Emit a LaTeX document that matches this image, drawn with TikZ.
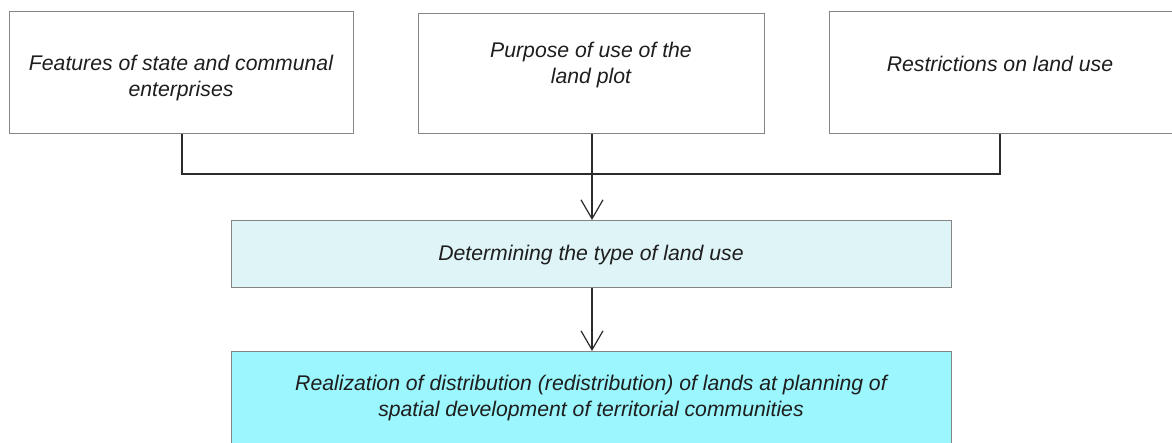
\documentclass[tikz,border=0pt]{standalone}
\usepackage{fontspec}
\setmainfont{Liberation Sans}
\usetikzlibrary{arrows.meta}
\definecolor{edge}{HTML}{858585}
\definecolor{wire}{HTML}{2B2B2B}
\definecolor{paleaqua}{HTML}{DEF4F7}
\definecolor{aqua}{HTML}{9BF6FD}
\definecolor{ink}{HTML}{1E1E1E}
\begin{document}
\begin{tikzpicture}[x=1pt,y=-1pt,
  box/.style={draw=edge,line width=0.9pt,fill=#1,inner sep=0pt,anchor=north west},
  box/.default=white,
  txt/.style={font=\itshape\fontsize{21.2}{26}\selectfont,text=ink,align=center,inner sep=0pt},
  wirestyle/.style={draw=wire,line width=1.4pt},
  flow/.style={wirestyle,-{Straight Barb[length=19pt,width=22pt,line width=1.2pt]}}]
  \useasboundingbox (0,0) rectangle (1172,443);
  \clip (0,0) rectangle (1172,443);
  % source boxes
  \node[box,minimum width=344pt,minimum height=122pt] (b1) at (9,11) {};
  \node[box,minimum width=346pt,minimum height=120pt] (b2) at (418,13) {};
  \node[box,minimum width=350pt,minimum height=122pt] (b3) at (829,11) {};
  % result boxes
  \node[box=paleaqua,minimum width=720pt,minimum height=67pt] (b4) at (231,220) {};
  \node[box=aqua,minimum width=720pt,minimum height=100pt] (b5) at (231,351) {};
  % labels
  \node[txt] (t1) at (181,78) {Features of state and communal\\enterprises};
  \node[txt] (t2) at (591,65) {Purpose of use of the\\land plot};
  \node[txt] (t3) at (1000,63.5) {Restrictions on land use};
  \node[txt] (t4) at (591,255) {Determining the type of land use};
  \node[txt] (t5) at (591,398) {Realization of distribution (redistribution) of lands at planning of\\spatial development of territorial communities};
  % connectors
  \coordinate (j1) at (182,174);
  \coordinate (j3) at (1000,174);
  \draw[wirestyle] (b1.south -| j1) -- (j1) -- (j3) -- (b3.south -| j3);
  \draw[flow] (b2.south -| 592,0) -- (b4.north -| 592,0);
  \draw[flow] (b4.south -| 592,0) -- (b5.north -| 592,0);
\end{tikzpicture}
\end{document}
